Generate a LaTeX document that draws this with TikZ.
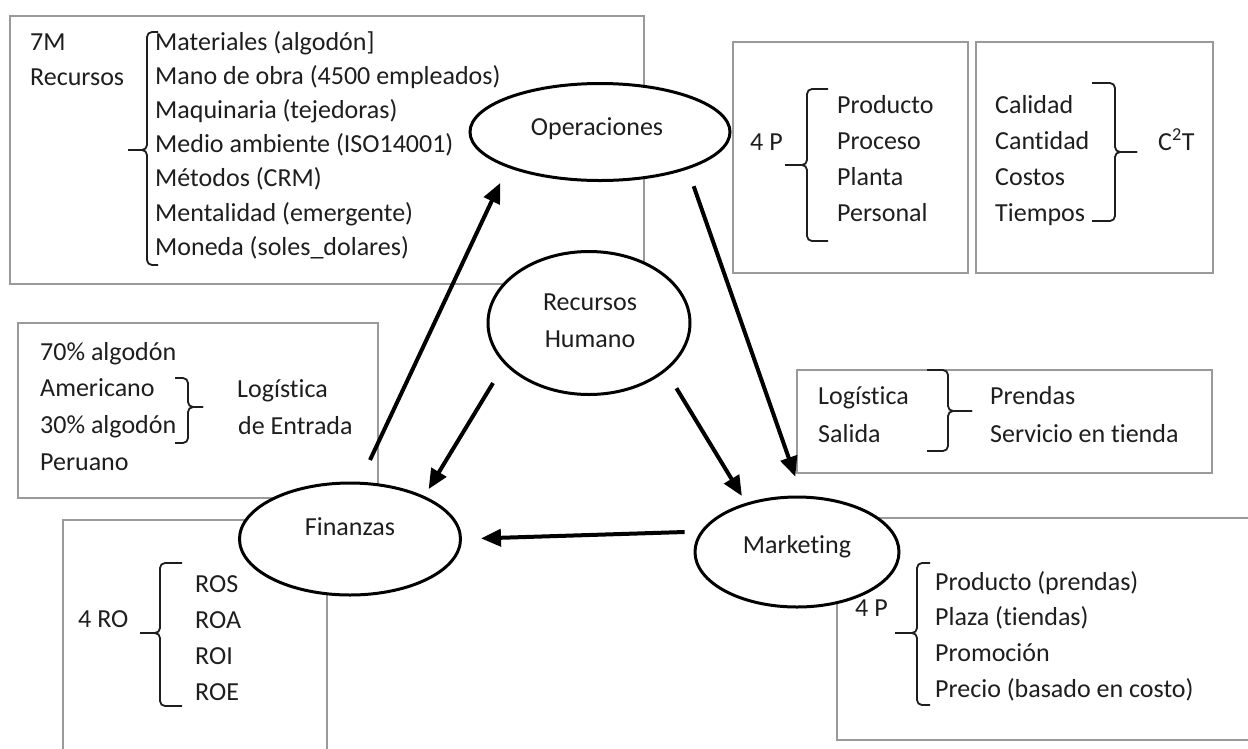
\documentclass[tikz,border=0pt]{standalone}
\usepackage{fontspec}
\setmainfont{Carlito}[Ligatures=NoCommon]
\usetikzlibrary{shapes.geometric,arrows.meta}

\definecolor{ink}{HTML}{1E1E1E}
\definecolor{frame}{HTML}{9A9A9A}

% a bracket: #1 spine x, #2 top y, #3 bottom y, #4 tip y, #5 tip x, #6 arm end x
\newcommand{\bracketpath}[6]{%
  \draw[brc] (#6,#2) -- (#1,#2) -- (#1,#4) -- (#5,#4);
  \draw[brc] (#6,#3) -- (#1,#3) -- (#1,#4) -- (#5,#4);}

\begin{document}
\begin{tikzpicture}[x=1pt,y=-1pt,
  txt/.style={font=\fontsize{26}{31}\selectfont, text=ink, inner sep=0pt, anchor=base west},
  ctxt/.style={txt, anchor=base},
  area/.style={ellipse, draw=black, line width=3pt, fill=white, inner sep=0pt},
  panel/.style={draw=frame, line width=1.3pt},
  brc/.style={draw=ink, line width=1.8pt, rounded corners=5pt},
  flow/.style={draw=black, line width=4pt, -{Triangle[length=20pt,width=17pt]}}]

\useasboundingbox (0,0) rectangle (1248,748);
\fill[white] (0,0) rectangle (1248,748);

% panels
\draw[panel] (10,16) rectangle (644,284);
\draw[panel] (733,42) rectangle (968,273);
\draw[panel] (976,42) rectangle (1213,273);
\draw[panel] (18,323) rectangle (378,498);
\draw[panel] (797,370) rectangle (1212,473);
\draw[panel] (63,760) -- (63,520) -- (327,520) -- (327,760);
\draw[panel] (1260,518) -- (837,518) -- (837,740) -- (1260,740);

% 7M recursos
\node[txt] (sieteM) at (30,50) {7M};
\node[txt] (recursos) at (30,85) {Recursos};
\foreach \t [count=\i] in {Materiales (algodón],Mano de obra (4500 empleados),Maquinaria (tejedoras),Medio ambiente (ISO14001),Métodos (CRM),Mentalidad (emergente),Moneda (soles\_dolares)}
  \node[txt] (m\i) at (155,{50+34.2*(\i-1)}) {\t};
\bracketpath{147}{32}{265}{150}{128}{158}

% 4 P de operaciones
\node[txt] (cuatroP) at (750,150) {4 P};
\foreach \t [count=\i] in {Producto,Proceso,Planta,Personal}
  \node[txt] (p\i) at (837,{113+36.3*(\i-1)}) {\t};
\bracketpath{807}{89}{241}{165}{785}{828}

% C2T
\foreach \t [count=\i] in {Calidad,Cantidad,Costos,Tiempos}
  \node[txt] (c\i) at (995,{113+36.3*(\i-1)}) {\t};
\bracketpath{1115}{83}{221}{152}{1137}{1092}
\node[txt] (cct) at (1158,150) {C\textsuperscript{2}T};

% logística de entrada
\foreach \t [count=\i] in {70\% algodón,Americano,30\% algodón,Peruano}
  \node[txt] (a\i) at (40,{360+36.7*(\i-1)}) {\t};
\bracketpath{188}{378}{443}{407}{203}{175}
\node[txt] (logE1) at (237,397) {Logística};
\node[txt] (logE2) at (238,434) {de Entrada};

% logística de salida
\node[txt] (logS1) at (818,404) {Logística};
\node[txt] (logS2) at (818,442) {Salida};
\bracketpath{948}{370}{451}{411}{972}{927}
\node[txt] (pr1) at (990,404) {Prendas};
\node[txt] (pr2) at (990,442) {Servicio en tienda};

% 4 RO
\node[txt] (cuatroRO) at (78,627) {4 RO};
\foreach \t [count=\i] in {ROS,ROA,ROI,ROE}
  \node[txt] (r\i) at (195,{592+36*(\i-1)}) {\t};
\bracketpath{160}{563}{706}{633}{140}{182}

% 4 P de marketing
\node[txt] (cuatroPm) at (855,616) {4 P};
\foreach \t [count=\i] in {Producto (prendas),Plaza (tiendas),Promoción,Precio (basado en costo)}
  \node[txt] (k\i) at (935,{590+35.8*(\i-1)}) {\t};
\bracketpath{917}{563}{705}{633}{895}{930}

% functional areas
\node[area, minimum width=260pt, minimum height=97pt] (ope) at (600,132) {};
\node[ctxt] (opeT) at (597,135) {Operaciones};
\node[area, minimum width=202pt, minimum height=143pt] (rh) at (589,323) {};
\node[ctxt] (rhT1) at (590,310) {Recursos};
\node[ctxt] (rhT2) at (590,347) {Humano};
\node[area, minimum width=221pt, minimum height=112pt] (fin) at (350,539) {};
\node[ctxt] (finT) at (350,535) {Finanzas};
\node[area, minimum width=204pt, minimum height=110pt] (mkt) at (797,552) {};
\node[ctxt] (mktT) at (797,553) {Marketing};

% flows
\coordinate (entrada) at (370,460);
\draw[flow, shorten >=17pt] (entrada) -- (ope.201);
\draw[flow, shorten <=18pt, shorten >=20pt] (ope.-23) -- (mkt.85);
\draw[flow, shorten <=22pt, shorten >=8pt] (rh.206) -- (fin.30);
\draw[flow, shorten <=20pt, shorten >=8pt] (rh.-32) -- (mkt.136);
\draw[flow, shorten <=16pt, shorten >=19pt] (mkt.168) -- (fin.0);

\end{tikzpicture}
\end{document}
